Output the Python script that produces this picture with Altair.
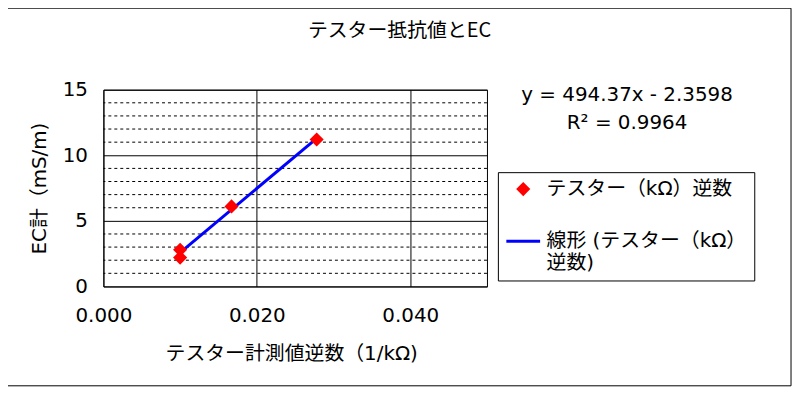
import altair as alt
import pandas as pd

# ---- data ----
title_text = "テスター抵抗値とEC"
x_title = "テスター計測値逆数（1/kΩ)"
y_title = "EC計（mS/m)"
series_names = ["テスター（kΩ）逆数", "線形 (テスター（kΩ）逆数)"]
x_vals = [0.0100, 0.0100, 0.0167, 0.0278]
y_vals = [2.8, 2.2, 6.1, 11.2]
x_ticks = [0.0, 0.02, 0.04]
y_ticks = [0, 5, 10, 15]
y_minor = [1, 2, 3, 4, 6, 7, 8, 9, 11, 12, 13, 14]
equation_lines = ["y = 494.37x - 2.3598", "R² = 0.9964"]

FONT = "DejaVu Sans, Noto Sans CJK JP"
JP = "Noto Sans CJK JP, DejaVu Sans"

df = pd.DataFrame({"x": x_vals, "y": y_vals, "series": [series_names[0]] * len(x_vals)})
minor_df = pd.DataFrame({"v": y_minor})

xs = alt.Scale(domain=[0, 0.05], nice=False, zero=False)
ys = alt.Scale(domain=[0, 15], nice=False, zero=False)

x_axis = alt.Axis(values=x_ticks, format=".3f", grid=True, gridColor="black", gridOpacity=1,
                  gridWidth=1, domain=False, ticks=False, labelFont=FONT, labelFontSize=20,
                  labelColor="black", labelPadding=19, labelFlush=False,
                  labelOverlap=False, title=x_title, titleFont=FONT, titleFontSize=20,
                  titleFontWeight="normal", titleColor="black", titleX=189, titleY=68,
                  titleBaseline="middle", titleAlign="center")
y_axis = alt.Axis(values=y_ticks, grid=True, gridColor="black", gridOpacity=1, gridWidth=1,
                  domain=False, ticks=False, labelFont=FONT, labelFontSize=20,
                  labelColor="black", labelPadding=16, labelFlush=False, labelOverlap=False,
                  title=y_title, titleFont=FONT, titleFontSize=20, titleFontWeight="normal",
                  titleColor="black", titleX=-64, titleY=99, titleAngle=270,
                  titleBaseline="middle", titleAlign="center")

label_expr = ("datum.value == '" + series_names[1] + "' ? ['線形 (テスター（kΩ）', '逆数)'] : datum.value")
legend = alt.Legend(title=None, orient="none", legendX=397, legendY=83, strokeColor="black",
                    fillColor="white", padding=7, labelFont=FONT, labelFontSize=20,
                    labelColor="black", labelLimit=500, labelOffset=5, rowPadding=23,
                    symbolStrokeWidth=3, labelExpr=label_expr, symbolOpacity=1)

color_scale = alt.Scale(domain=series_names, range=["#FF0000", "#0000FF"])

frame = alt.Chart(pd.DataFrame({"a": [0]})).mark_rect(
    fillOpacity=0, stroke="black", strokeWidth=1
).encode(x=alt.value(-97), x2=alt.value(692), y=alt.value(-82), y2=alt.value(298))

minor = alt.Chart(minor_df).mark_rule(color="black", strokeWidth=1, strokeDash=[3, 3]).encode(
    y=alt.Y("v:Q", scale=ys, axis=y_axis)
)

trend = alt.Chart(df).transform_regression("x", "y").mark_line(
    color="#0000FF", strokeWidth=3
).encode(x=alt.X("x:Q", scale=xs, axis=x_axis), y=alt.Y("y:Q", scale=ys, axis=y_axis))

points = alt.Chart(df).mark_point(filled=True, strokeWidth=3, opacity=1).encode(
    x=alt.X("x:Q", scale=xs, axis=x_axis),
    y=alt.Y("y:Q", scale=ys, axis=y_axis),
    fill=alt.Fill("series:N", scale=color_scale, legend=legend),
    stroke=alt.Stroke("series:N", scale=color_scale, legend=legend),
    shape=alt.Shape("series:N", scale=alt.Scale(domain=series_names, range=["diamond", "stroke"]),
                    legend=legend),
    size=alt.Size("series:N", scale=alt.Scale(type="ordinal", domain=series_names, range=[100, 1156]),
                  legend=legend),
)

title = alt.Chart(pd.DataFrame({"t": [title_text]})).mark_text(
    font=JP, fontSize=20, color="black", align="center", baseline="middle"
).encode(text="t:N", x=alt.value(298), y=alt.value(-59))

eq1 = alt.Chart(pd.DataFrame({"t": [equation_lines[0]]})).mark_text(
    font=FONT, fontSize=20, color="black", align="center", baseline="middle"
).encode(text="t:N", x=alt.value(527), y=alt.value(5))

eq2 = alt.Chart(pd.DataFrame({"t": [equation_lines[1]]})).mark_text(
    font=FONT, fontSize=20, color="black", align="center", baseline="middle"
).encode(text="t:N", x=alt.value(527), y=alt.value(34))

chart = alt.layer(frame, minor, trend, points, title, eq1, eq2).properties(
    width=386, height=198,
    autosize=alt.AutoSizeParams(type="none"),
    padding={"left": 96, "top": 81, "right": 310, "bottom": 102},
    background="white",
).configure_view(stroke="black", strokeWidth=1)

chart.save("out.html", embed_options={"renderer": "svg", "actions": False})
